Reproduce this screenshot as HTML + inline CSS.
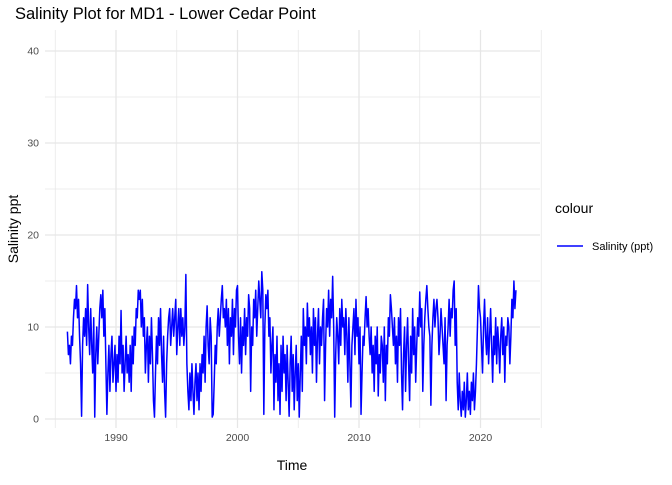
<!DOCTYPE html>
<html><head><meta charset="utf-8"><style>
body{margin:0;background:#fff;font-family:"Liberation Sans",sans-serif;}
</style></head><body>
<svg width="672" height="480" xmlns="http://www.w3.org/2000/svg" font-family="Liberation Sans, sans-serif">
<rect width="672" height="480" fill="#fff"/>
<g id="grid"></g>
<g id="ticks"></g>
<path id="series" fill="none" stroke="#0000ff" stroke-width="1.5" stroke-linejoin="round"/>
<text x="15" y="19" font-size="16.5" fill="#000">Salinity Plot for MD1 - Lower Cedar Point</text>
<text x="292" y="470" font-size="14" text-anchor="middle" fill="#000">Time</text>
<text transform="translate(18,229) rotate(-90)" font-size="14" text-anchor="middle" fill="#000">Salinity ppt</text>
<text x="555" y="213" font-size="14" fill="#000">colour</text>
<line x1="557" y1="246" x2="583" y2="246" stroke="#0000ff" stroke-width="1.4"/>
<text x="592" y="250" font-size="11" fill="#000">Salinity (ppt)</text>
</svg>
<script>
const startYear = 1986;
const yTicks = [0,10,20,30,40];
const xTicks = [1990,2000,2010,2020];
const salinity = [
9.5,7,8,6,9,8,11,13,12,14.5,11,13,
9,6,0.3,8,11,9,12,8,14.6,10,7,12,
8,5,11,0.2,7,10,6,9,12,13.5,11,14,
9,12,6,0.5,5,8,3,7,9,4,6,8,
3,7,4,9,6,11.8,5,8,3,6,9,5,
7,4,8,3,9,6,10,8,12,11,14,13,
14,10,13,9,11,5,8,10,4,9,6,11,
7,2,0.2,5,9,6,11,8,12,7,4,9,
3,0.2,6,9,11,12,8,10,12,9,11,13,
7,10,12,8,12,9,11,8,10,15.7,6,3,
1,5,2,6,3,0.5,4,6,2,5,1,6,
3,7,5,9,4,10,12.3,8,6,11,9,0.2,
0.5,4,8,6,10,12,9,11,13,14.5,11,12,
10,13,8,12,6,11,9,13,7,12,10,14,
14.5,9,6,11,5,10,8,12,7,11,9,13.5,
12,3,10,8,13,11,14,9,12,15,13,11,
16,14,0.5,10,13.5,12,14,9,11,5,8,10,
1,7,4,9,2,6,0.5,8,3,9,5,7,
2,8,4,0.3,6,9,3,7,1,5,8,2,
6,0.2,5,9,3,12,8,10,6,12.6,9,11,
7,10,5,12,8,11,4,9,12,6,10,8,
11,13,2,8,12,10,14,9,13,11,15.5,10,
0.2,7,11,9,6,12,8,13,10,11,7,12,
9,4,11,6,1.3,8,10,12,7,13,9,11,
6,10,0.5,5,9,8,11,13.3,10,12,9,7,
10,5,8,3,9,6,10,2.5,7,5,9,8,
4,10,2,8,6,11,9,13.5,12,10,8,11,
6,9,4,11,8,12,5,1,7,10,3,8,
11,6,2,9,5,12,7,10,4,8,11,9,
13.8,10,12,3,8,11,13,14.5,12,10,9,1.5,
8,11,13,10,12,13,11,7,9,12,10,8,
6,11,2,8,10,13,9,12,11,14,15,8,
12,4,1,5,2,0.3,3,1,4,0.2,2,5,
1,3,0.5,4,2,5,1,3,6,10,14.5,12,
11,8,5,10,13,9,7,11,6,9,12,8,
4,9,7,11,6,10,8,5,9,11,7,10,
4,9,8,11,10,6,9,13,11,15,12,14
];
const X0=45,X1=540,Y0=30,Y1=428;
function xs(yr){return 116+(yr-1990)*12.15;}
function ys(v){return 419-v*9.2;}
const NS="http://www.w3.org/2000/svg";
const grid=document.getElementById('grid'), ticks=document.getElementById('ticks');
function line(x1,y1,x2,y2,w,name){const l=document.createElementNS(NS,'line');
l.setAttribute('x1',x1);l.setAttribute('y1',y1);l.setAttribute('x2',x2);l.setAttribute('y2',y2);
l.setAttribute('stroke','#e6e6e6');l.setAttribute('stroke-width',w);


grid.appendChild(l);}
yTicks.forEach((v,i)=>{ if(i<yTicks.length-1) line(X0,ys(v+5),X1,ys(v+5),0.7,'minor-gridline-y');
 line(X0,ys(v),X1,ys(v),1.3,'major-gridline-y');
 const t=document.createElementNS(NS,'text');t.setAttribute('x',39);t.setAttribute('y',ys(v)+3.5);
 t.setAttribute('text-anchor','end');t.setAttribute('font-size','10.5');t.setAttribute('fill','#4d4d4d');t.textContent=v;
 
 
 ticks.appendChild(t);});
line(xs(1985),Y0,xs(1985),Y1,0.7,'minor-gridline-x');
xTicks.forEach(v=>{ line(xs(v+5),Y0,xs(v+5),Y1,0.7,'minor-gridline-x');
 line(xs(v),Y0,xs(v),Y1,1.3,'major-gridline-x');
 const t=document.createElementNS(NS,'text');t.setAttribute('x',xs(v));t.setAttribute('y',441);
 t.setAttribute('text-anchor','middle');t.setAttribute('font-size','10.5');t.setAttribute('fill','#4d4d4d');t.textContent=v;
 
 
 ticks.appendChild(t);});
let d='';
salinity.forEach((v,i)=>{const x=xs(startYear+i/12),y=ys(v);d+=(i?'L':'M')+x.toFixed(2)+','+y.toFixed(2);});
document.getElementById('series').setAttribute('d',d);
</script>
</body></html>
